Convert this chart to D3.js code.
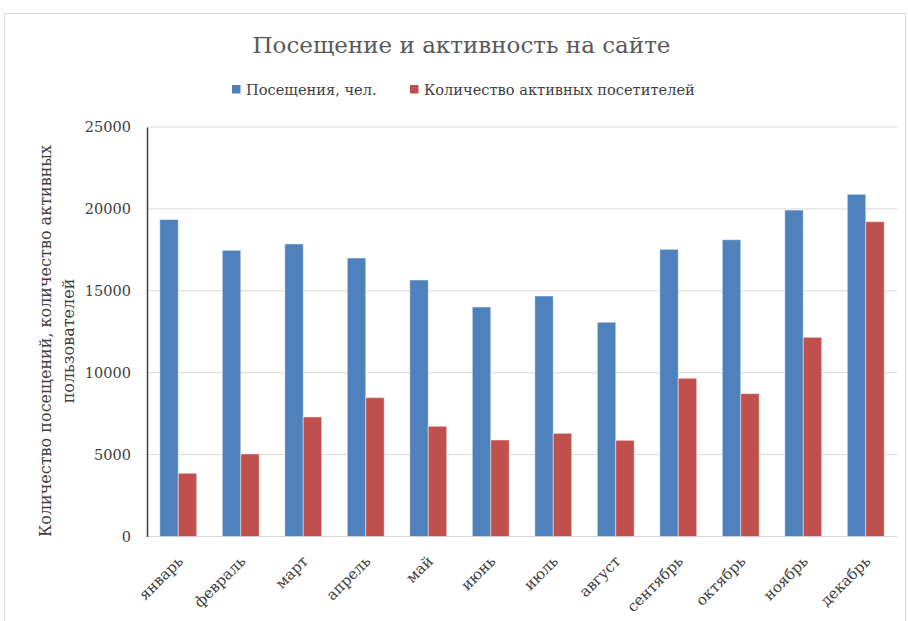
<!DOCTYPE html>
<html><head><meta charset="utf-8">
<script src="https://cdn.jsdelivr.net/npm/d3@7"></script>
<style>body{margin:0;background:#fff}svg{display:block}</style>
</head><body>
<svg id="c" width="908" height="621"></svg>
<script>
const months = ["январь","февраль","март","апрель","май","июнь","июль","август","сентябрь","октябрь","ноябрь","декабрь"];
const visits = [19350,17470,17860,17000,15660,14010,14680,13080,17530,18120,19930,20890];
const active = [3860,5040,7300,8480,6730,5890,6300,5870,9660,8720,12160,19220];
const seriesNames = ["Посещения, чел.","Количество активных посетителей"];
const yTicks = [0,5000,10000,15000,20000,25000];
const colors = ["#4F81BD","#C0504D"];
const FONT = "'DejaVu Serif', 'Liberation Serif', serif";

const svg = d3.select("#c");
svg.append("rect").attr("x",4.5).attr("y",13.5).attr("width",901).attr("height",610).attr("fill","#fff").attr("stroke","#d9d9d9");

const m = {left:147, right:897, top:127, bottom:536.5};
const x = d3.scaleBand().domain(months).range([m.left,m.right]).paddingInner(0.41).paddingOuter(0.205);
const xs = d3.scaleBand().domain([0,1]).range([0,x.bandwidth()]);
const y = d3.scaleLinear().domain([0,25000]).range([m.bottom,m.top]);

// gridlines
svg.append("g").selectAll("line").data(yTicks).join("line")
  .attr("x1",m.left).attr("x2",m.right).attr("y1",d=>y(d)).attr("y2",d=>y(d))
  .attr("stroke","#d9d9d9").attr("stroke-width",1);

// y axis
const ya = d3.axisLeft(y).tickValues(yTicks).tickSize(0).tickPadding(16).tickFormat(d3.format("d"));
const gy = svg.append("g").attr("transform",`translate(${m.left},0)`).call(ya);
gy.select(".domain").attr("stroke","#404040").attr("stroke-width",1.5);
gy.selectAll("text").attr("font-family",FONT).attr("font-size",14.5).attr("fill","#404040");

// bars
const data = months.map((mo,i)=>({mo, vals:[visits[i],active[i]]}));
const g = svg.append("g");
g.selectAll("g").data(data).join("g").attr("transform",d=>`translate(${x(d.mo)},0)`)
  .selectAll("rect").data(d=>d.vals.map((v,k)=>({v,k}))).join("rect")
  .attr("x",d=>xs(d.k)).attr("width",xs.bandwidth())
  .attr("y",d=>y(d.v)).attr("height",d=>y(0)-y(d.v))
  .attr("fill",d=>colors[d.k]).attr("stroke","rgba(255,255,255,0.45)").attr("stroke-width",1);

// x axis labels
const xa = d3.axisBottom(x).tickSize(0).tickPadding(0);
const gx = svg.append("g").attr("transform",`translate(0,${m.bottom})`).call(xa);
gx.select(".domain").remove();
gx.selectAll("text").attr("font-family",FONT).attr("font-size",15).attr("fill","#404040")
  .attr("text-anchor","end").attr("dy","0.35em")
  .attr("transform","translate(2,22) rotate(-45)");

// title
svg.append("text").attr("x",461.5).attr("y",53).attr("text-anchor","middle")
  .attr("font-family",FONT).attr("font-size",23).attr("fill","#595959")
  .text("Посещение и активность на сайте");

// legend
const leg = svg.append("g");
const legX = [232,410];
seriesNames.forEach((n,i)=>{
  leg.append("rect").attr("x",legX[i]).attr("y",85).attr("width",8.5).attr("height",8.5).attr("fill",colors[i]);
  leg.append("text").attr("x",legX[i]+14).attr("y",95).attr("font-family",FONT).attr("font-size",14.6)
    .attr("fill","#404040").text(n);
});

// y title
const yt = svg.append("text").attr("transform","translate(51,341) rotate(-90)")
  .attr("text-anchor","middle").attr("font-family",FONT).attr("font-size",16).attr("fill","#404040");
yt.append("tspan").attr("x",0).attr("dy",0).text("Количество посещений, количество активных");
yt.append("tspan").attr("x",0).attr("dy",23).text("пользователей");
</script>
</body></html>
